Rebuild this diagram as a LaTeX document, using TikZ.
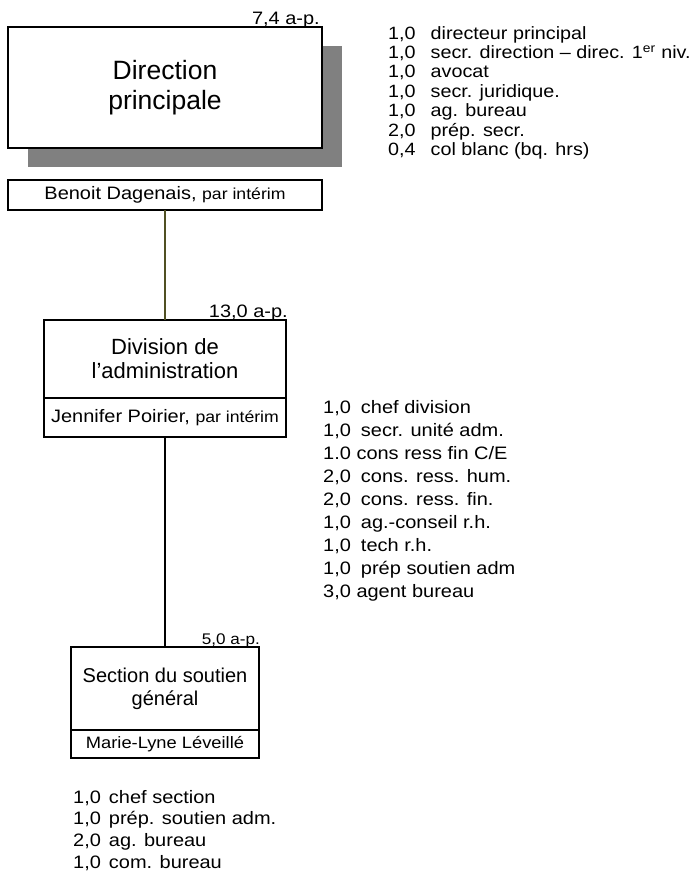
\documentclass[tikz,border=0pt]{standalone}
\usepackage{fontspec}
\setmainfont{Liberation Sans}[FakeStretch=1.11]
\newfontfamily\boxfont{Liberation Sans}
\usetikzlibrary{positioning,shadows}
\definecolor{olive-line}{RGB}{80,80,35}
\definecolor{shadow-gray}{RGB}{128,128,128}

\begin{document}
\begin{tikzpicture}[
    x=1pt, y=-1pt,
    unitbox/.style={draw, line width=1.4pt, fill=white, inner sep=0pt, outer sep=0pt, align=center},
    namebox/.style={draw, line width=1.4pt, fill=white, inner sep=0pt, outer sep=0pt, font=\fontsize{18}{20}\selectfont},
    apnote/.style={inner sep=0pt, anchor=base east, font=\fontsize{18}{20}\selectfont},
    postes/.style={inner sep=0pt, anchor=north west},
    link/.style={line width=1.4pt},
]
\useasboundingbox (0,0) rectangle (691,872);

% Direction principale
\node[unitbox, minimum width=314pt, minimum height=121pt,
      font=\boxfont\fontsize{26.5}{30}\selectfont,
      drop shadow={shadow xshift=20pt, shadow yshift=-19pt, fill=shadow-gray, opacity=1}]
      (dir) at (165,87.5) {Direction\\principale};
\node[namebox, minimum width=314pt, minimum height=30pt, below=32pt of dir] (dirnom)
      {Benoit Dagenais, {\fontsize{15.9}{18}\selectfont par intérim}};
\node[apnote] (dirap) at ([shift={(-2pt,2.5pt)}]dir.north east) {7,4 a-p.};

% Division de l'administration
\node[unitbox, minimum width=242pt, minimum height=78pt,
      font=\boxfont\fontsize{22}{24}\selectfont] (div) at (165,359) {Division de\\l’administration};
\node[namebox, minimum width=242pt, minimum height=39pt, below=0pt of div] (divnom)
      {Jennifer Poirier, {\fontsize{15.9}{18}\selectfont par intérim}};
\node[apnote] (divap) at ([shift={(2pt,2.5pt)}]div.north east) {13,0 a-p.};

% Section du soutien general
\node[unitbox, minimum width=188pt, minimum height=83pt,
      font=\boxfont\fontsize{20}{23}\selectfont] (sec) at (165,688.5) {Section du soutien\\général};
\node[namebox, minimum width=188pt, minimum height=28pt, below=0pt of sec,
      font=\fontsize{16.5}{18}\selectfont] (secnom) {Marie-Lyne Léveillé};
\node[apnote, font=\fontsize{15.4}{17}\selectfont] (secap) at ([shift={(1pt,2.5pt)}]sec.north east) {5,0 a-p.};

% liens hierarchiques
\draw[link, olive-line] (dirnom.south) -- (div.north);
\draw[link] (divnom.south) -- (sec.north);

% postes
\node[postes, font=\fontsize{17.8}{19.4}\selectfont] (dirpostes) at (388,25.4) {%
  \begin{tabular}{@{}l@{\hspace{15pt}}l@{}}
  1,0 & directeur principal\\
  1,0 & secr. direction – direc. 1\textsuperscript{er} niv.\\
  1,0 & avocat\\
  1,0 & secr. juridique.\\
  1,0 & ag. bureau\\
  2,0 & prép. secr.\\
  0,4 & col blanc (bq. hrs)
  \end{tabular}};

\node[postes, font=\fontsize{18}{23}\selectfont] (divpostes) at (323,396.9) {%
  \begin{tabular}{@{}l@{\hspace{10pt}}l@{}}
  1,0 & chef division\\
  1,0 & secr. unité adm.\\
  \multicolumn{2}{@{}l@{}}{1.0 cons ress fin C/E}\\
  2,0 & cons. ress. hum.\\
  2,0 & cons. ress. fin.\\
  1,0 & ag.-conseil r.h.\\
  1,0 & tech r.h.\\
  1,0 & prép soutien adm\\
  \multicolumn{2}{@{}l@{}}{3,0 agent bureau}
  \end{tabular}};

\node[postes, font=\fontsize{18}{21.7}\selectfont] (secpostes) at (73,787.8) {%
  \begin{tabular}{@{}l@{\hspace{8pt}}l@{}}
  1,0 & chef section\\
  1,0 & prép. soutien adm.\\
  2,0 & ag. bureau\\
  1,0 & com. bureau
  \end{tabular}};
\end{tikzpicture}
\end{document}
